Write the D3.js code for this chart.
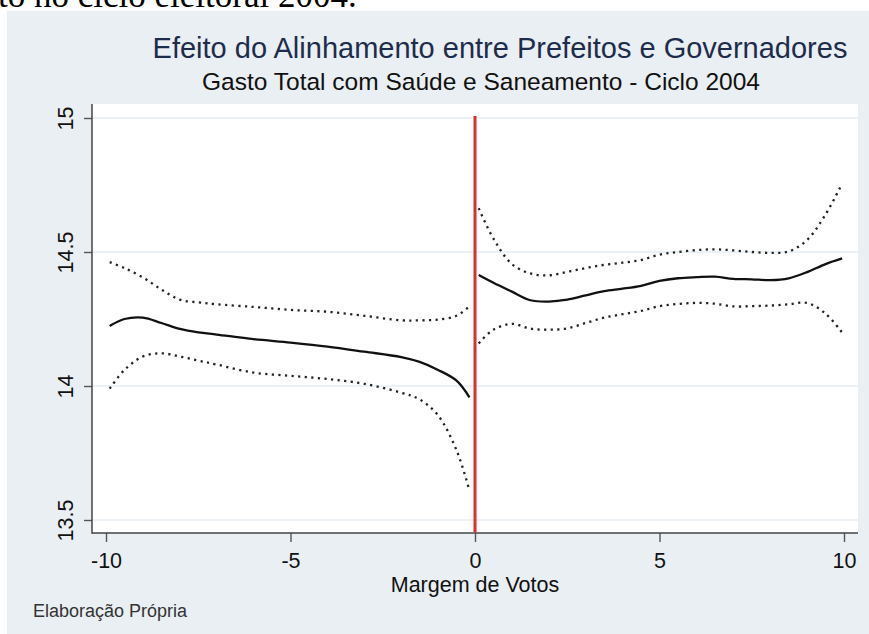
<!DOCTYPE html>
<html>
<head>
<meta charset="utf-8">
<script src="https://cdn.jsdelivr.net/npm/d3@7"></script>
<style>
  html, body { margin: 0; padding: 0; background: #ffffff; }
  svg { display: block; }
</style>
</head>
<body>
<svg id="chart" width="869" height="634"></svg>
<script>
// ---------- data ----------
const title = "Efeito do Alinhamento entre Prefeitos e Governadores";
const subtitle = "Gasto Total com Saúde e Saneamento - Ciclo 2004";
const xTitle = "Margem de Votos";
const note = "Elaboração Própria";
const docText = "to no ciclo eleitoral 2004.";

const xTicks = [-10, -5, 0, 5, 10];
const yTicks = [13.5, 14, 14.5, 15];
const cutoff = 0;

const xLeft   = [-9.9, -9.5, -9.0, -8.5, -8.0, -7.5, -7.0, -6.0, -5.0, -4.0, -3.0, -2.0, -1.5, -1.0, -0.5, -0.15];
const fitLeft = [14.224, 14.250, 14.255, 14.235, 14.213, 14.200, 14.192, 14.175, 14.162, 14.147, 14.128, 14.108, 14.090, 14.060, 14.020, 13.958];
const hiLeft  = [14.462, 14.440, 14.405, 14.360, 14.322, 14.312, 14.305, 14.295, 14.284, 14.277, 14.262, 14.245, 14.245, 14.248, 14.262, 14.298];
const loLeft  = [13.990, 14.060, 14.110, 14.122, 14.110, 14.095, 14.080, 14.050, 14.038, 14.026, 14.008, 13.975, 13.950, 13.890, 13.760, 13.610];

const xRight   = [0.1, 0.5, 1.0, 1.5, 2.0, 2.5, 3.0, 3.5, 4.0, 4.5, 5.0, 5.5, 6.0, 6.5, 7.0, 7.5, 8.0, 8.5, 9.0, 9.5, 9.95];
const fitRight = [14.414, 14.385, 14.352, 14.320, 14.315, 14.322, 14.338, 14.354, 14.363, 14.374, 14.392, 14.402, 14.406, 14.408, 14.400, 14.398, 14.395, 14.402, 14.425, 14.455, 14.476];
const hiRight  = [14.663, 14.550, 14.455, 14.420, 14.413, 14.426, 14.440, 14.452, 14.460, 14.470, 14.490, 14.500, 14.507, 14.510, 14.506, 14.500, 14.497, 14.502, 14.545, 14.640, 14.756];
const loRight  = [14.159, 14.210, 14.232, 14.214, 14.210, 14.215, 14.235, 14.255, 14.268, 14.280, 14.298, 14.306, 14.310, 14.307, 14.297, 14.298, 14.300, 14.305, 14.310, 14.270, 14.199];

// ---------- layout ----------
const W = 869, H = 634;
const plot = { left: 92, right: 858, top: 104, bottom: 533 };
const bg = "#e9eff2";
const font = "'Liberation Sans', Arial, Helvetica, sans-serif";

const svg = d3.select("#chart");

// document text fragment above chart
svg.append("text")
  .attr("x", -2).attr("y", 7)
  .attr("font-family", "'Liberation Serif', 'Times New Roman', serif")
  .attr("font-size", 35)
  .attr("fill", "#000")
  .text(docText);

// chart background
svg.append("rect")
  .attr("x", 7).attr("y", 11).attr("width", W - 7).attr("height", H - 11)
  .attr("fill", bg);

// plot area
svg.append("rect")
  .attr("x", plot.left).attr("y", plot.top)
  .attr("width", plot.right - plot.left).attr("height", plot.bottom - plot.top)
  .attr("fill", "#ffffff");

const x = d3.scaleLinear().domain([-10, 10]).range([106, 844]);
const y = d3.scaleLinear().domain([13.5, 15]).range([520, 118]);

// grid lines
svg.append("g").selectAll("line").data(yTicks).join("line")
  .attr("x1", plot.left + 1).attr("x2", plot.right)
  .attr("y1", d => y(d)).attr("y2", d => y(d))
  .attr("stroke", "#e5edf0").attr("stroke-width", 1.6);

// y axis
const yAxis = svg.append("g")
  .attr("transform", `translate(${plot.left},0)`)
  .call(d3.axisLeft(y).tickValues(yTicks).tickSize(8).tickSizeOuter(0).tickFormat(d3.format("")));
yAxis.select(".domain").remove();
yAxis.selectAll(".tick line").attr("stroke", "#555").attr("stroke-width", 1.4);
yAxis.selectAll(".tick text")
  .attr("x", 0).attr("dy", 0).attr("y", 0)
  .attr("text-anchor", "middle")
  .attr("transform", "translate(-19,0) rotate(-90)")
  .attr("font-family", font).attr("font-size", 21.5).attr("fill", "#111");

// x axis
const xAxis = svg.append("g")
  .attr("transform", `translate(0,${plot.bottom})`)
  .call(d3.axisBottom(x).tickValues(xTicks).tickSize(9).tickSizeOuter(0).tickFormat(d3.format("")));
xAxis.select(".domain").remove();
xAxis.selectAll(".tick line").attr("stroke", "#555").attr("stroke-width", 1.4);
xAxis.selectAll(".tick text")
  .attr("y", 35).attr("dy", 0)
  .attr("font-family", font).attr("font-size", 21.5).attr("fill", "#111")
  .text(d => d < 0 ? "-" + Math.abs(d) : d);

// axis lines
svg.append("line")
  .attr("x1", plot.left).attr("x2", plot.left)
  .attr("y1", plot.top).attr("y2", plot.bottom + 0.7)
  .attr("stroke", "#444").attr("stroke-width", 1.5);
svg.append("line")
  .attr("x1", plot.left).attr("x2", plot.right)
  .attr("y1", plot.bottom).attr("y2", plot.bottom)
  .attr("stroke", "#444").attr("stroke-width", 1.5);

// series
const line = d3.line().x(d => x(d[0])).y(d => y(d[1])).curve(d3.curveCatmullRom.alpha(0.5));
const zip = (xs, ys) => xs.map((v, i) => [v, ys[i]]);

const series = [
  { d: zip(xLeft, hiLeft), dotted: true },
  { d: zip(xLeft, loLeft), dotted: true },
  { d: zip(xLeft, fitLeft), dotted: false },
  { d: zip(xRight, hiRight), dotted: true },
  { d: zip(xRight, loRight), dotted: true },
  { d: zip(xRight, fitRight), dotted: false }
];

svg.append("g").selectAll("path").data(series).join("path")
  .attr("d", s => line(s.d))
  .attr("fill", "none")
  .attr("stroke", s => s.dotted ? "#222" : "#111")
  .attr("stroke-width", 2.3)
  .attr("stroke-dasharray", s => s.dotted ? "2.2 4.4" : null);

// cutoff line
svg.append("line")
  .attr("x1", x(cutoff)).attr("x2", x(cutoff))
  .attr("y1", 116).attr("y2", plot.bottom - 0.5)
  .attr("stroke", "#d5312f").attr("stroke-width", 3);

// titles
svg.append("text")
  .attr("x", 500).attr("y", 58)
  .attr("text-anchor", "middle")
  .attr("font-family", font).attr("font-size", 29)
  .attr("fill", "#1e2c4c")
  .text(title);

svg.append("text")
  .attr("x", 481).attr("y", 90)
  .attr("text-anchor", "middle")
  .attr("font-family", font).attr("font-size", 24.5)
  .attr("fill", "#111")
  .text(subtitle);

svg.append("text")
  .attr("x", x(0)).attr("y", 592)
  .attr("text-anchor", "middle")
  .attr("font-family", font).attr("font-size", 21.5)
  .attr("fill", "#111")
  .text(xTitle);

svg.append("text")
  .attr("x", 33).attr("y", 617)
  .attr("font-family", font).attr("font-size", 18)
  .attr("fill", "#333")
  .text(note);
</script>
</body>
</html>
